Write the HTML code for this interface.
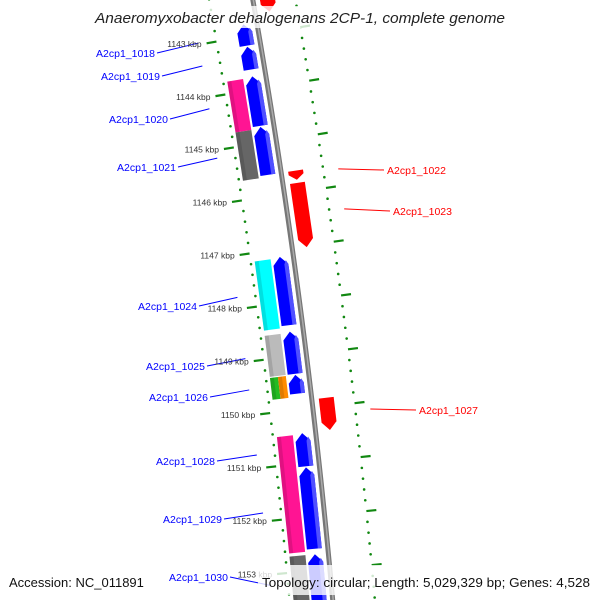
<!DOCTYPE html>
<html><head><meta charset="utf-8"><style>
html,body{margin:0;background:#fff;width:600px;height:600px;overflow:hidden}
svg{display:block;font-family:"Liberation Sans","DejaVu Sans",sans-serif}
</style></head><body>
<svg id="map" width="600" height="600" viewBox="0 0 600 600" xmlns="http://www.w3.org/2000/svg">
<rect width="600" height="600" fill="#fff"/>
<g id="rulers"></g>
<g id="backbone"></g>
<g id="feats"></g>
<g id="labels"></g>
<g id="ticklabels"></g>
<rect x="85" y="6" width="430" height="22" fill="#fff" fill-opacity="0.8"/>
<text x="300" y="23" text-anchor="middle" font-size="15" font-style="italic" textLength="410" lengthAdjust="spacingAndGlyphs" fill="#222">Anaeromyxobacter dehalogenans 2CP-1, complete genome</text>
<rect x="258" y="565" width="342" height="30" fill="#fff" fill-opacity="0.8"/>
<text x="9" y="587" font-size="13" fill="#111">Accession: NC_011891</text>
<text x="262" y="587" font-size="13" textLength="328" lengthAdjust="spacingAndGlyphs" fill="#111">Topology: circular; Length: 5,029,329 bp; Genes: 4,528</text>
</svg>
<script>
// data (kbp)
const majorTicks = [1143,1144,1145,1146,1147,1148,1149,1150,1151,1152,1153];
const tickLabels = ["1143 kbp","1144 kbp","1145 kbp","1146 kbp","1147 kbp","1148 kbp","1149 kbp","1150 kbp","1151 kbp","1152 kbp","1153 kbp"];
const fwdStarts = [1142.77,1143.19,1143.75,1144.70,1147.14,1148.54,1149.35,1150.44,1151.08,1152.70];
const fwdEnds   = [1143.17,1143.62,1144.68,1145.60,1148.42,1149.33,1149.70,1151.06,1152.60,1153.70];
const cogStarts = [1143.77,1144.73,1147.16,1148.56,1149.35,1149.35,1150.46,1152.70];
const cogEnds   = [1144.73,1145.64,1148.46,1149.33,1149.76,1149.76,1152.64,1153.70];
const cogColors = ["#ff1493","#666666","#00ffff","#bbbbbb","#22bb22","#ff8c00","#ff1493","#666666"];
const cogLanes  = ["full","full","full","full","inner","outer","full","full"];
const revStarts = [1141.90,1142.32,1145.60,1145.83,1149.84];
const revEnds   = [1142.30,1142.62,1145.77,1147.03,1150.44];
const fwdNames = ["A2cp1_1018","A2cp1_1019","A2cp1_1020","A2cp1_1021","A2cp1_1024","A2cp1_1025","A2cp1_1026","A2cp1_1028","A2cp1_1029","A2cp1_1030"];
const revNames = ["","","A2cp1_1022","A2cp1_1023","A2cp1_1027"];
// layout
const CX=-6710, CY=1232, A0=-0.1702, K=0.00763;
const fwdLabelPos=[[155,57],[160,80],[168,123],[176,171],[197,310],[205,370],[208,401],[215,465],[222,523],[228,581]];
const revLabelPos=[null,null,[387,174],[393,215],[419,414]];
function ang(kbp){return A0+(kbp-1143)*K;}
function pt(kbp,r){const a=ang(kbp);return [CX+r*Math.cos(a),CY+r*Math.sin(a)];}
const NS="http://www.w3.org/2000/svg";
function mk(tag,attrs,parent){const e=document.createElementNS(NS,tag);for(const k in attrs)e.setAttribute(k,attrs[k]);parent.appendChild(e);return e;}
function poly(pts){return pts.map(p=>p[0].toFixed(2)+","+p[1].toFixed(2)).join(" ");}
function arcPath(s,e,r){const p=[];for(let i=0;i<=40;i++){p.push(pt(s+(e-s)*i/40,r));}return "M"+p.map(q=>q[0].toFixed(2)+","+q[1].toFixed(2)).join(" L");}

const rul=document.getElementById('rulers');
const GREEN="#118811";
[[7028,7018,7028],[7113,7113,7123]].forEach(([rd,r1,r2],ri)=>{
  for(let i=0;i<=60;i++){
    const k=1141.8+i*0.2;
    if(Math.abs(k-Math.round(k))<0.01)continue;
    const c=pt(k,rd);
    const d=mk('circle',{cx:c[0],cy:c[1],r:1.3,fill:GREEN},rul);
    
    
  }
  for(let k=1142;k<=1154;k++){
    const a=pt(k,r1),b=pt(k,r2);
    const l=mk('line',{x1:a[0],y1:a[1],x2:b[0],y2:b[1],stroke:GREEN,'stroke-width':2.2},rul);
    
    
  }
});
const bb=document.getElementById('backbone');
const b1=mk('path',{d:arcPath(1141.5,1154.5,7071),stroke:"#777",'stroke-width':5,fill:"none"},bb);


const b2=mk('path',{d:arcPath(1141.5,1154.5,7071.5),stroke:"#aaa",'stroke-width':1.5,fill:"none"},bb);



const fg=document.getElementById('feats');
const H=0.15;
fwdStarts.forEach((s,i)=>{
  const e=fwdEnds[i],r1=7050,r2=7065,rm=7057.5;
  const p=[pt(s+H,r1),pt(s,rm),pt(s+H,r2),pt(e,r2),pt(e,r1)];
  const g=mk('polygon',{points:poly(p),fill:"#0000ff"},fg);
  
  
  const hl=mk('polygon',{points:poly([pt(s+H,r2-4),pt(s+H*0.5,r2-2),pt(s+H,r2),pt(e,r2),pt(e,r2-4)]),fill:"#5050ff"},fg);
  
  
});
cogStarts.forEach((s,i)=>{
  const e=cogEnds[i];
  let r1=7032,r2=7048;
  if(cogLanes[i]==="inner")r2=7040;
  if(cogLanes[i]==="outer")r1=7040;
  const g=mk('polygon',{points:poly([pt(s,r1),pt(s,r2),pt(e,r2),pt(e,r1)]),fill:cogColors[i]},fg);
  
  
  const sh=mk('polygon',{points:poly([pt(s,r1),pt(s,r1+4),pt(e,r1+4),pt(e,r1)]),fill:"#000",'fill-opacity':0.12},fg);
  
  
});
revStarts.forEach((s,i)=>{
  const e=revEnds[i],r1=7078,r2=7093,rm=7085.5;
  const h=Math.min(H,(e-s)*0.6);
  const p=[pt(s,r1),pt(s,r2),pt(e-h,r2),pt(e,rm),pt(e-h,r1)];
  const g=mk('polygon',{points:poly(p),fill:"#ff0000"},fg);
  
  
});
const lg=document.getElementById('labels');
fwdNames.forEach((n,i)=>{
  const [x,y]=fwdLabelPos[i];
  const t=mk('text',{x:x,y:y,'text-anchor':'end','font-size':10.5,fill:"#0000ff"},lg);
  t.textContent=n;
  
  
  const m=(fwdStarts[i]+fwdEnds[i])/2;
  const q=pt(m,7010);
  const l=mk('line',{x1:x+2,y1:y-4,x2:q[0],y2:q[1],stroke:"#0000ff",'stroke-width':1},lg);
  
  
});
revNames.forEach((n,i)=>{
  if(!n)return;
  const [x,y]=revLabelPos[i];
  const t=mk('text',{x:x,y:y,'font-size':10.5,fill:"#ff0000"},lg);
  t.textContent=n;
  
  
  const m=(revStarts[i]+revEnds[i])/2;
  const q=pt(m,7128);
  const l=mk('line',{x1:q[0],y1:q[1],x2:x-3,y2:y-4,stroke:"#ff0000",'stroke-width':1},lg);
  
  
});
const tl=document.getElementById('ticklabels');
majorTicks.forEach((k,i)=>{
  const q=pt(k,7013);
  const t=mk('text',{x:q[0],y:q[1]+3,'text-anchor':'end','font-size':8.5,fill:"#333"},tl);
  t.textContent=tickLabels[i];
  
  
});
</script>
</body></html>
